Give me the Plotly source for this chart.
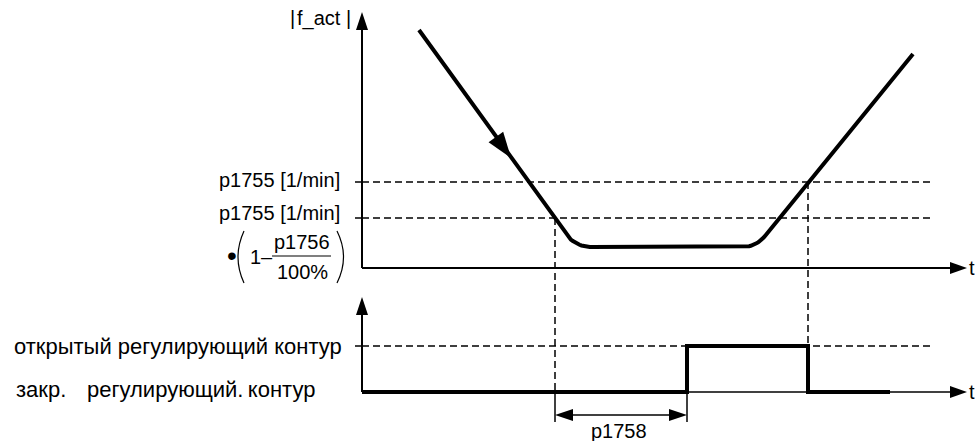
import numpy as np
import plotly.graph_objects as go

W, H = 978, 441
FONT = "Liberation Sans, Arial, sans-serif"
FS = 20
FS_RU = 22

# ---- diagram coordinates (x to the right, y downward, 1 unit = 1 px) ----
axis_x = 362
top_base_y, top_axis_tip_y = 268, 12
bot_base_y, bot_axis_tip_y = 392, 297
t_axis_tip_x = 967
dash_end_x = 932

# speed thresholds
n_hi_y = 182   # p1755
n_lo_y = 218   # p1755*(1-p1756/100%)

# |f_act| curve (corner points) and corner rounding legs
speed_t = [419, 575, 756, 913]
speed_n = [30, 247, 247, 54]
corner_leg = [0, 17, 14, 0]

# control state
state_t = [362, 687, 687, 808, 808, 890]
state_y = [392, 392, 346, 346, 392, 392]
state_open_y = 346

# guide lines
guide_left_x = 555
guide_right_x = 808
delay_end_x = 687
dim_y = 415
ext_bottom_y = 422

# texts
thr_labels = ["p1755 [1/min]", "p1755 [1/min]"]
state_labels = ["открытый регулирующий контур", "закр.", "регулирующий.\u2009контур"]

fig = go.Figure()


def line(x, y, width=2, dash=None, color="black"):
    fig.add_trace(go.Scatter(x=x, y=y, mode="lines", hoverinfo="skip",
                             line=dict(color=color, width=width, dash=dash)))


def head(tx, ty, dx, dy, length, width):
    d = np.hypot(dx, dy)
    ux, uy = dx / d, dy / d
    px, py = -uy, ux
    bx, by = tx - ux * length, ty - uy * length
    xs = [tx, bx + px * width / 2, bx - px * width / 2, tx]
    ys = [ty, by + py * width / 2, by - py * width / 2, ty]
    fig.add_trace(go.Scatter(x=xs, y=ys, mode="lines", fill="toself",
                             fillcolor="black", line=dict(width=0, color="black"),
                             hoverinfo="skip"))


def rounded(ts, ns, legs):
    xs, ys = [ts[0]], [ns[0]]
    for i in range(1, len(ts) - 1):
        p = np.array([ts[i], ns[i]], float)
        a = np.array([ts[i - 1], ns[i - 1]], float)
        b = np.array([ts[i + 1], ns[i + 1]], float)
        r = legs[i]
        p0 = p + (a - p) / np.linalg.norm(a - p) * r
        p2 = p + (b - p) / np.linalg.norm(b - p) * r
        for s in np.linspace(0, 1, 16):
            q = (1 - s) ** 2 * p0 + 2 * (1 - s) * s * p + s ** 2 * p2
            xs.append(q[0]); ys.append(q[1])
    xs.append(ts[-1]); ys.append(ns[-1])
    return xs, ys


DASH = "7px,4px"
DW = 1.5
# dashed threshold lines
line([axis_x, dash_end_x], [n_hi_y, n_hi_y], DW, DASH)
line([axis_x, dash_end_x], [n_lo_y, n_lo_y], DW, DASH)
line([axis_x, dash_end_x - 2], [state_open_y, state_open_y], DW, DASH)
# small ticks
for yy in (n_hi_y, n_lo_y, state_open_y):
    line([axis_x - 7, axis_x], [yy, yy], 1.5)
# dashed vertical guides
line([guide_left_x, guide_left_x], [n_lo_y, bot_base_y], DW, DASH)
line([guide_right_x, guide_right_x], [n_hi_y, state_open_y], DW, DASH)

# axes
line([axis_x, axis_x], [top_base_y, top_axis_tip_y + 10], 2)
line([axis_x, t_axis_tip_x - 10], [top_base_y, top_base_y], 2)
line([axis_x, axis_x], [bot_base_y, bot_axis_tip_y + 10], 2)
line([axis_x, t_axis_tip_x - 10], [bot_base_y, bot_base_y], 1.6)
head(axis_x, top_axis_tip_y, 0, -1, 18, 12)
head(t_axis_tip_x, top_base_y, 1, 0, 17, 12)
head(axis_x, bot_axis_tip_y, 0, -1, 18, 12)
head(t_axis_tip_x, bot_base_y, 1, 0, 17, 12)

# speed curve
cx, cy = rounded(speed_t, speed_n, corner_leg)
line(cx, cy, 4)
# direction arrow on the falling edge
frac = 0.59
tx = speed_t[0] + frac * (speed_t[1] - speed_t[0])
ty = speed_n[0] + frac * (speed_n[1] - speed_n[0])
head(tx, ty, speed_t[1] - speed_t[0], speed_n[1] - speed_n[0], 26, 18)

# control state signal
line(state_t, state_y, 4)

# p1758 dimension
line([guide_left_x, guide_left_x], [bot_base_y, ext_bottom_y], 1.5)
line([delay_end_x, delay_end_x], [bot_base_y, ext_bottom_y], 1.5)
line([guide_left_x + 10, delay_end_x - 10], [dim_y, dim_y], 1.5)
head(guide_left_x, dim_y, -1, 0, 18, 12)
head(delay_end_x, dim_y, 1, 0, 18, 12)

# formula parentheses and fraction bar
fig.add_shape(type="path", path="M 244,231 Q 232,257 244,283",
              line=dict(color="black", width=1.2), xref="x", yref="y")
fig.add_shape(type="path", path="M 337,231 Q 350,257 337,283",
              line=dict(color="black", width=1.2), xref="x", yref="y")
line([272, 331], [256, 256], 1.2)


def txt(x, y, s, xanchor="center", size=FS):
    fig.add_annotation(x=x, y=y, text=s, showarrow=False, xanchor=xanchor,
                       yanchor="middle", font=dict(family=FONT, size=size, color="black"),
                       xref="x", yref="y")


txt(292, 18, "|")
txt(319, 18, "f_act")
txt(348, 18, "|")
txt(342, 180, thr_labels[0], "right")
txt(342, 213, thr_labels[1], "right")
txt(232, 255, "•", size=28)
txt(261, 257, "1–")
txt(302, 242, "p1756")
txt(302, 272, "100%")
txt(972, 268, "t")
txt(972, 392, "t")
txt(12, 346, state_labels[0], "left", FS_RU)
txt(14, 389, state_labels[1], "left", FS_RU)
txt(85, 389, state_labels[2], "left", FS_RU)
txt(619, 431, "p1758")

fig.update_layout(
    width=W, height=H, autosize=False, showlegend=False,
    margin=dict(l=0, r=0, t=0, b=0),
    paper_bgcolor="white", plot_bgcolor="white",
    xaxis=dict(range=[0, W], visible=False, fixedrange=True),
    yaxis=dict(range=[H, 0], visible=False, fixedrange=True),
)
fig.write_html(
    "out.html",
    config={"displayModeBar": False},
    post_script="document.body.style.margin='0';document.body.style.overflow='hidden';",
)
